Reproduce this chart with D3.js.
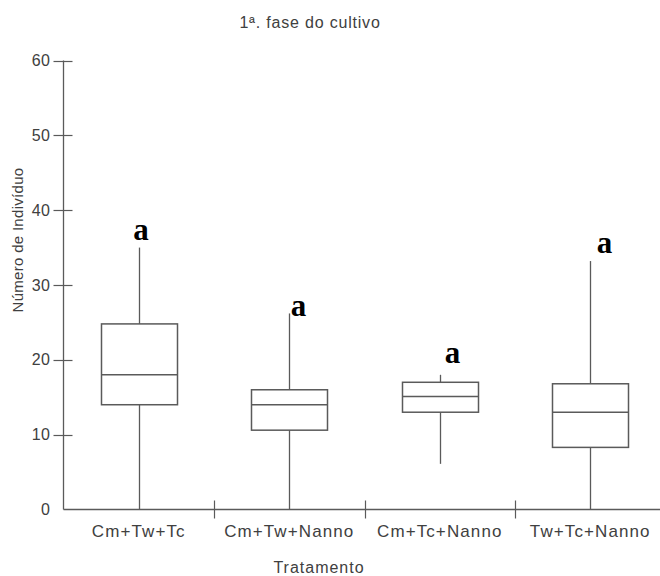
<!DOCTYPE html>
<html>
<head>
<meta charset="utf-8">
<script src="https://cdn.jsdelivr.net/npm/d3@7/dist/d3.min.js"></script>
<style>
  html, body { margin: 0; padding: 0; background: #fff; }
  svg { display: block; }
</style>
</head>
<body>
<svg id="chart" width="660" height="576"></svg>
<script>
// ---- data ----
const categories = ["Cm+Tw+Tc", "Cm+Tw+Nanno", "Cm+Tc+Nanno", "Tw+Tc+Nanno"];
const whiskerMin = [0, 0, 6.1, 0];
const q1Values = [14.0, 10.6, 13.0, 8.3];
const medianValues = [18.0, 14.0, 15.1, 13.0];
const q3Values = [24.8, 16.0, 17.0, 16.8];
const whiskerMax = [35.0, 26.2, 18.0, 33.2];
const groupLetters = ["a", "a", "a", "a"];
const letterValues = [36.0, 25.9, 19.6, 34.3];   // baseline of letters, data units
const yTicks = [0, 10, 20, 30, 40, 50, 60];
const titleText = "1ª. fase do cultivo";
const xTitle = "Tratamento";
const yTitle = "Número de Indivíduo";

// ---- layout ----
const svg = d3.select("#chart");
const lineColor = "#5a5a5a";
const textColor = "#404040";
const fontSans = "Arial, 'Liberation Sans', sans-serif";
const axisX = 63.5, axisY = 509.5;

const x = d3.scaleBand().domain(categories).range([63.5, 665.5]).padding(0);
const y = d3.scaleLinear().domain([0, 60]).range([509.5, 60.5]);

const boxes = categories.map((c, i) => ({
  cat: c, min: whiskerMin[i], q1: q1Values[i], med: medianValues[i],
  q3: q3Values[i], max: whiskerMax[i], letter: groupLetters[i], lv: letterValues[i]
}));
const letterDx = [1.5, 9, 12, 14];

// title
svg.append("text")
  .attr("x", 310).attr("y", 28)
  .attr("text-anchor", "middle")
  .attr("font-family", fontSans)
  .attr("font-size", 16).attr("letter-spacing", 0.8)
  .attr("fill", textColor)
  .text(titleText);

// y axis
const yAxis = d3.axisLeft(y).tickValues(yTicks).tickSize(0).tickPadding(13);
const gy = svg.append("g").attr("transform", `translate(${axisX},0)`).call(yAxis);
gy.select(".domain").remove();
gy.selectAll(".tick text")
  .attr("font-family", fontSans)
  .attr("font-size", 16).attr("letter-spacing", 0.5).attr("fill", textColor);
svg.append("g").selectAll("line").data(yTicks.filter(t => t > 0)).join("line")
  .attr("x1", axisX - 10).attr("x2", axisX + 9)
  .attr("y1", d => Math.round(y(d)) + 0.5).attr("y2", d => Math.round(y(d)) + 0.5)
  .attr("stroke", lineColor).attr("stroke-width", 1.2);
svg.append("line")
  .attr("x1", axisX).attr("x2", axisX)
  .attr("y1", y(60)).attr("y2", axisY)
  .attr("stroke", lineColor).attr("stroke-width", 1.3);

// x axis
svg.append("line")
  .attr("x1", axisX).attr("x2", 660)
  .attr("y1", axisY).attr("y2", axisY)
  .attr("stroke", lineColor).attr("stroke-width", 1.3);
const boundaries = categories.slice(1).map(c => x(c));
svg.append("g").selectAll("line").data(boundaries).join("line")
  .attr("x1", d => Math.round(d) + 0.5).attr("x2", d => Math.round(d) + 0.5)
  .attr("y1", axisY - 9).attr("y2", axisY + 9)
  .attr("stroke", lineColor).attr("stroke-width", 1.2);
svg.append("g").selectAll("text").data(categories).join("text")
  .attr("x", d => x(d) + x.bandwidth() / 2)
  .attr("y", 537)
  .attr("text-anchor", "middle")
  .attr("font-family", fontSans)
  .attr("font-size", 17).attr("letter-spacing", 1.1)
  .attr("fill", textColor)
  .text(d => d);

// axis titles
svg.append("text")
  .attr("x", 319).attr("y", 573)
  .attr("text-anchor", "middle")
  .attr("font-family", fontSans)
  .attr("font-size", 16).attr("letter-spacing", 1)
  .attr("fill", textColor)
  .text(xTitle);
svg.append("text")
  .attr("transform", "translate(23,240) rotate(-90)")
  .attr("text-anchor", "middle")
  .attr("font-family", fontSans)
  .attr("font-size", 15).attr("letter-spacing", 0.3)
  .attr("fill", textColor)
  .text(yTitle);

// boxes
const bw = x.bandwidth() * 0.505;
const g = svg.append("g").selectAll("g").data(boxes).join("g")
  .attr("transform", d => `translate(${Math.round(x(d.cat) + x.bandwidth() / 2) + 0.5},0)`);
g.append("line")
  .attr("x1", 0).attr("x2", 0)
  .attr("y1", d => y(d.max)).attr("y2", d => y(d.q3))
  .attr("stroke", lineColor).attr("stroke-width", 1.3);
g.append("line")
  .attr("x1", 0).attr("x2", 0)
  .attr("y1", d => y(d.q1)).attr("y2", d => y(d.min))
  .attr("stroke", lineColor).attr("stroke-width", 1.3);
g.append("rect")
  .attr("x", -bw / 2).attr("width", bw)
  .attr("y", d => y(d.q3)).attr("height", d => y(d.q1) - y(d.q3))
  .attr("fill", "none").attr("stroke", lineColor).attr("stroke-width", 1.5);
g.append("line")
  .attr("x1", -bw / 2).attr("x2", bw / 2)
  .attr("y1", d => y(d.med)).attr("y2", d => y(d.med))
  .attr("stroke", lineColor).attr("stroke-width", 1.5);
g.append("text")
  .attr("x", (d, i) => letterDx[i])
  .attr("y", d => y(d.lv))
  .attr("text-anchor", "middle")
  .attr("font-family", "'Liberation Serif', 'Times New Roman', serif")
  .attr("font-weight", "bold")
  .attr("font-size", 31)
  .attr("fill", "#000")
  .text(d => d.letter);
</script>
</body>
</html>
